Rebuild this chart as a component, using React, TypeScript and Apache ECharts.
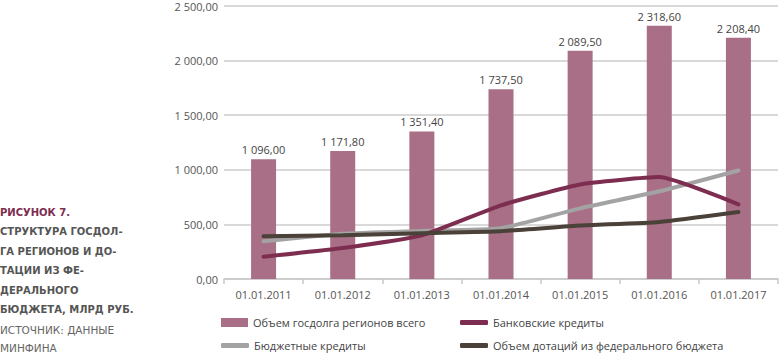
import React, { useEffect, useRef } from "react";
import * as echarts from "echarts";

const categories = ["01.01.2011", "01.01.2012", "01.01.2013", "01.01.2014", "01.01.2015", "01.01.2016", "01.01.2017"];
const totalDebt = [1096.0, 1171.8, 1351.4, 1737.5, 2089.5, 2318.6, 2208.4];
const bankCredits = [204, 283, 400, 675, 866, 933, 684];
const budgetCredits = [346, 415, 440, 465, 647, 803, 994];
const subsidies = [392, 400, 420, 438, 490, 523, 614];
const titleLines = [
  "СТРУКТУРА ГОСДОЛ-",
  "ГА РЕГИОНОВ И ДО-",
  "ТАЦИИ ИЗ ФЕ-",
  "ДЕРАЛЬНОГО",
  "БЮДЖЕТА, МЛРД РУБ.",
];
const sourceLines = ["ИСТОЧНИК: ДАННЫЕ", "МИНФИНА"];

const FONT = "'Open Sans', 'Noto Sans', sans-serif";
const SIDE_FONT = "'DejaVu Sans', sans-serif";

function fmt(v: number): string {
  const s = v.toFixed(2);
  const [i, d] = s.split(".");
  const ii = i.replace(/\B(?=(\d{3})+(?!\d))/g, " ");
  return ii + "," + d;
}

export default function App() {
  const ref = useRef<HTMLDivElement>(null);
  useEffect(() => {
    if (!ref.current) return;
    const chart = echarts.init(ref.current, undefined, { renderer: "svg" });
    const red = "#7d2d50";
    const grey = "#a3a3a3";
    const dark = "#4a4139";
    const barColor = "#a96f86";
    const graphics: any[] = [
      {
        type: "text",
        left: 0,
        top: 207,
        style: { text: "РИСУНОК 7.", fill: red, font: `bold 10px ${SIDE_FONT}` },
      },
    ];
    titleLines.forEach((t, i) => {
      graphics.push({
        type: "text",
        left: 0,
        top: 226.5 + i * 19.6,
        style: { text: t, fill: "#555", font: `bold 10px ${SIDE_FONT}` },
      });
    });
    sourceLines.forEach((t, i) => {
      graphics.push({
        type: "text",
        left: 0,
        top: 324.5 + i * 17.5,
        style: { text: t, fill: "#666", font: `10.5px ${SIDE_FONT}` },
      });
    });
    const legendBase = {
      textStyle: { fontFamily: FONT, fontSize: 11, color: "#444" },
      itemGap: 10,
    };
    chart.setOption({
      animation: false,
      textStyle: { fontFamily: FONT },
      grid: { left: 224, right: 1, top: 6, bottom: 74 },
      graphic: graphics,
      legend: [
        { ...legendBase, left: 216, top: 312, itemWidth: 27, itemHeight: 9, data: [{ name: "Объем госдолга регионов всего", icon: "rect" }] },
        { ...legendBase, left: 455, top: 312, itemWidth: 28, itemHeight: 5, data: [{ name: "Банковские кредиты", icon: "roundRect" }] },
        { ...legendBase, left: 216, top: 335, itemWidth: 28, itemHeight: 5, data: [{ name: "Бюджетные кредиты", icon: "roundRect" }] },
        { ...legendBase, left: 455, top: 335, itemWidth: 28, itemHeight: 5, data: [{ name: "Объем дотаций из федерального бюджета", icon: "roundRect" }] },
      ],
      xAxis: {
        type: "category",
        data: categories,
        axisLine: { lineStyle: { color: "#c8c8c8", width: 1.5 } },
        axisTick: { show: true, length: 5, lineStyle: { color: "#c8c8c8", width: 1.5 } },
        axisLabel: { color: "#555", fontSize: 11, margin: 10, fontFamily: FONT },
      },
      yAxis: {
        type: "value",
        min: 0,
        max: 2500,
        interval: 500,
        axisLine: { show: false },
        axisTick: { show: false },
        splitLine: { lineStyle: { color: "#cccccc", width: 1.5 } },
        axisLabel: { color: "#555", fontSize: 11, margin: 6, formatter: (v: number) => fmt(v), fontFamily: FONT },
      },
      series: [
        {
          name: "Объем госдолга регионов всего",
          type: "bar",
          data: totalDebt,
          barWidth: 25,
          itemStyle: { color: barColor },
          label: {
            show: true,
            position: "top",
            distance: 4,
            color: "#444",
            fontSize: 11,
            fontFamily: FONT,
            formatter: (p: any) => fmt(p.value),
          },
          z: 1,
        },
        {
          name: "Банковские кредиты",
          type: "line",
          data: bankCredits,
          smooth: 0.15,
          symbol: "none",
          lineStyle: { color: red, width: 4, cap: "round" },
          itemStyle: { color: red },
          z: 3,
        },
        {
          name: "Бюджетные кредиты",
          type: "line",
          data: budgetCredits,
          smooth: 0.15,
          symbol: "none",
          lineStyle: { color: grey, width: 4, cap: "round" },
          itemStyle: { color: grey },
          z: 2,
        },
        {
          name: "Объем дотаций из федерального бюджета",
          type: "line",
          data: subsidies,
          smooth: 0.15,
          symbol: "none",
          lineStyle: { color: dark, width: 4, cap: "round" },
          itemStyle: { color: dark },
          z: 4,
        },
      ],
    });
    return () => chart.dispose();
  }, []);
  return <div ref={ref} style={{ width: 779, height: 353, position: "absolute", left: 0, top: 0 }} />;
}
